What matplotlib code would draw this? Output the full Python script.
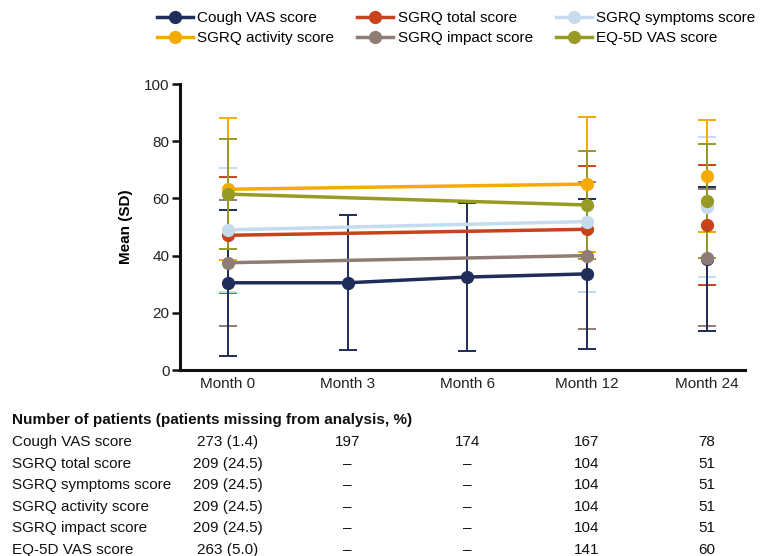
import numpy as np
import matplotlib
matplotlib.use("Agg")
import matplotlib.pyplot as plt
from matplotlib.lines import Line2D
from matplotlib.transforms import blended_transform_factory

plt.rcParams['font.family'] = ['Liberation Sans', 'DejaVu Sans']
plt.rcParams['font.size'] = 11

nan = np.nan
months = ['Month 0', 'Month 3', 'Month 6', 'Month 12', 'Month 24']

# mean and SD per timepoint
cough_mean = [30.5, 30.5, 32.5, 33.6, 38.7]
cough_sd = [25.5, 23.6, 25.8, 26.3, 25.2]
total_mean = [47.1, nan, nan, 49.2, 50.7]
total_sd = [20.3, nan, nan, 22.1, 21.0]
symptoms_mean = [49.0, nan, nan, 51.9, 56.9]
symptoms_sd = [21.7, nan, nan, 24.8, 24.4]
activity_mean = [63.2, nan, nan, 65.0, 67.9]
activity_sd = [24.8, nan, nan, 23.6, 19.5]
impact_mean = [37.5, nan, nan, 40.0, 39.3]
impact_sd = [22.0, nan, nan, 25.7, 24.0]
eq5d_mean = [61.5, nan, nan, 57.7, 59.1]
eq5d_sd = [19.1, nan, nan, 19.0, 19.8]

# number of patients table
n_cough = ['273 (1.4)', '197', '174', '167', '78']
n_total = ['209 (24.5)', '–', '–', '104', '51']
n_symptoms = ['209 (24.5)', '–', '–', '104', '51']
n_activity = ['209 (24.5)', '–', '–', '104', '51']
n_impact = ['209 (24.5)', '–', '–', '104', '51']
n_eq5d = ['263 (5.0)', '–', '–', '141', '60']

series = [
    ('Cough VAS score', cough_mean, cough_sd, n_cough, '#1f2d5a'),
    ('SGRQ total score', total_mean, total_sd, n_total, '#c8431b'),
    ('SGRQ symptoms score', symptoms_mean, symptoms_sd, n_symptoms, '#c6dcee'),
    ('SGRQ activity score', activity_mean, activity_sd, n_activity, '#f4ab00'),
    ('SGRQ impact score', impact_mean, impact_sd, n_impact, '#8f7c74'),
    ('EQ-5D VAS score', eq5d_mean, eq5d_sd, n_eq5d, '#979a25'),
]

fig = plt.figure(figsize=(7.61, 5.56), dpi=100)
ax = fig.add_axes([180/761, 1 - 370/556, 565/761, 286/556])
x = np.arange(len(months))

# error bars first, olive last so it sits on top like the original
err_order = [1, 2, 3, 4, 0, 5]
for i in err_order:
    name, m, sd, _, c = series[i]
    m = np.array(m); sd = np.array(sd)
    ok = ~np.isnan(m)
    ax.errorbar(x[ok], m[ok], yerr=sd[ok], fmt='none', ecolor=c,
                elinewidth=1.4, capsize=6.5, capthick=1.4, zorder=2)

handles = {}
for name, m, sd, _, c in series:
    m = np.array(m)
    ok = ~np.isnan(m)
    conn = ok & (x < 4)  # month 24 is not joined
    ax.plot(x[conn], m[conn], color=c, lw=2.5, zorder=3, solid_capstyle='butt')
    ax.plot(x[ok], m[ok], 'o', color=c, ms=8.5, zorder=4)
    handles[name] = Line2D([], [], color=c, lw=2.5, marker='o', ms=8.5)

ax.set_ylim(0, 100)
ax.set_xlim(-0.4, 4.32)
ax.set_yticks([0, 20, 40, 60, 80, 100])
ax.set_xticks(x)
ax.set_xticklabels(months)
for s in ['top', 'right']:
    ax.spines[s].set_visible(False)
for s in ['left', 'bottom']:
    ax.spines[s].set_linewidth(2.2)
    ax.spines[s].set_color('#111111')
ax.tick_params(axis='y', direction='out', length=6, width=1.8, pad=1.5,
               labelsize=11, labelcolor='#222222', color='#111111')
ax.tick_params(axis='x', length=0, pad=5, labelsize=11, labelcolor='#222222')
ax.set_ylabel('Mean (SD)', fontweight='bold', fontsize=11)
ax.yaxis.set_label_coords(-0.083, 0.5)

# legend: column-wise fill so rows read like the original
leg_order = ['Cough VAS score', 'SGRQ activity score', 'SGRQ total score',
             'SGRQ impact score', 'SGRQ symptoms score', 'EQ-5D VAS score']
fig.legend([handles[k] for k in leg_order], leg_order, ncol=3, frameon=False,
           loc='upper left', bbox_to_anchor=(157/761, 1 - 11/556),
           borderpad=0, borderaxespad=0, handlelength=2.35, handletextpad=0.3,
           columnspacing=1.5, labelspacing=0.4, fontsize=11)

# patient numbers table under the axis
tr = blended_transform_factory(ax.transData, fig.transFigure)
fig.text(12/761, 1 - 420/556, 'Number of patients (patients missing from analysis, %)',
         fontweight='bold', fontsize=11, va='center', ha='left', color='#111111')
row_y = [442, 464, 485, 507, 528, 550]
for (name, _, _, counts, _), yy in zip(series, row_y):
    fig.text(12/761, 1 - yy/556, name, fontsize=11, va='center', ha='left', color='#111111')
    for xi, txt in zip(x, counts):
        fig.text(xi, 1 - yy/556, txt, transform=tr, fontsize=11,
                 va='center', ha='center', color='#111111')

fig.savefig('out.png', dpi=100)
